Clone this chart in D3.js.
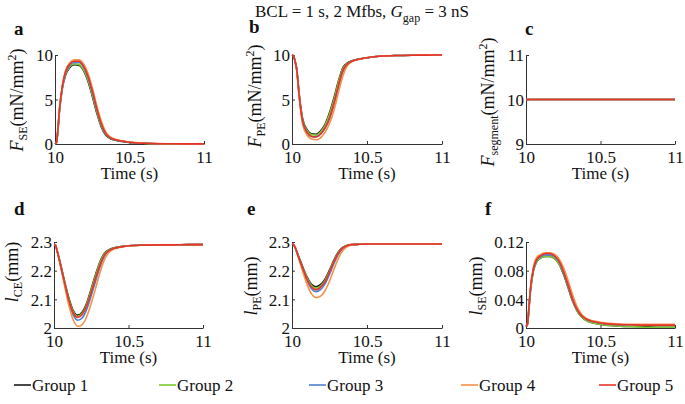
<!DOCTYPE html>
<html><head><meta charset="utf-8">
<script src="https://cdn.jsdelivr.net/npm/d3@7"></script>
<style>
body{margin:0;background:#fff;}
svg text, svg tspan{font-family:"Liberation Serif","Times New Roman","DejaVu Serif",serif !important;fill:#111;}
</style></head>
<body><svg id="c" width="685" height="404"></svg>
<script>
// ---------- data ----------
const groups = ["Group 1","Group 2","Group 3","Group 4","Group 5"];
const colors = ["#1a1a1a","#7cc832","#4f7fcf","#f4924a","#e8332b"];
const time = [10,10.01,10.02,10.03,10.05,10.07,10.1,10.13,10.16,10.19,10.22,10.25,10.28,10.31,10.34,10.37,10.4,10.45,10.5,10.6,10.7,10.8,10.9,11];
const xTicks = [10,10.5,11];

const fSE = [
 [0,0.15,1.6,3.7,6.3,7.7,8.6,8.9,8.85,8.3,7.1,5.4,3.5,1.95,1.0,0.62,0.44,0.29,0.17,0.07,0.03,0.01,0.01,0],
 [0,0.15,1.65,3.75,6.35,7.8,8.7,9.0,8.95,8.4,7.25,5.55,3.65,2.05,1.08,0.66,0.46,0.3,0.18,0.07,0.03,0.01,0.01,0],
 [0,0.18,1.75,3.85,6.45,7.95,8.85,9.15,9.15,8.7,7.55,5.85,3.9,2.2,1.18,0.71,0.49,0.32,0.2,0.08,0.03,0.02,0.01,0.01],
 [0,0.2,1.8,3.95,6.65,8.2,9.15,9.45,9.45,9.05,8.0,6.35,4.35,2.6,1.4,0.8,0.55,0.36,0.22,0.09,0.04,0.02,0.01,0.01],
 [0,0.2,1.8,3.9,6.6,8.1,9.0,9.3,9.3,8.8,7.7,6.0,4.0,2.3,1.2,0.72,0.5,0.33,0.2,0.08,0.03,0.02,0.01,0.01]
];
const fPE = [
 [10,9.9,9.35,8.6,5.3,2.9,1.6,1.15,1.1,1.45,2.2,3.5,5.2,7.1,8.6,9.1,9.35,9.56,9.7,9.88,9.95,9.98,9.99,10],
 [10,9.9,9.35,8.6,5.25,2.8,1.5,1.05,1.0,1.35,2.1,3.35,5.0,7.0,8.5,9.05,9.33,9.56,9.7,9.88,9.95,9.98,9.99,10],
 [10,9.9,9.3,8.5,5.1,2.6,1.3,0.85,0.82,1.1,1.75,2.85,4.45,6.45,8.15,8.95,9.3,9.55,9.7,9.88,9.95,9.98,9.99,10],
 [10,9.9,9.25,8.4,4.9,2.3,1.0,0.55,0.47,0.7,1.3,2.3,3.8,5.8,7.7,8.8,9.25,9.53,9.7,9.88,9.95,9.98,9.99,10],
 [10,9.9,9.3,8.5,5.1,2.6,1.3,0.85,0.78,1.1,1.8,2.9,4.6,6.6,8.3,9.0,9.3,9.55,9.7,9.88,9.95,9.98,9.99,10]
];
const segTime = [10,11];
const fSeg = [[10,10],[10,10],[10,10],[10,10],[10,10]];
const lCE = [
 [2.291,2.289,2.272,2.253,2.21,2.165,2.104,2.06,2.045,2.056,2.088,2.137,2.188,2.233,2.262,2.273,2.279,2.284,2.287,2.289,2.29,2.29,2.291,2.291],
 [2.291,2.289,2.271,2.252,2.208,2.163,2.1,2.056,2.041,2.052,2.084,2.133,2.184,2.23,2.26,2.272,2.278,2.284,2.287,2.289,2.29,2.29,2.291,2.291],
 [2.291,2.289,2.27,2.25,2.204,2.157,2.09,2.045,2.027,2.036,2.066,2.113,2.165,2.215,2.252,2.269,2.277,2.283,2.287,2.289,2.29,2.29,2.291,2.291],
 [2.291,2.289,2.269,2.248,2.2,2.15,2.078,2.027,2.006,2.012,2.04,2.086,2.14,2.195,2.24,2.264,2.275,2.282,2.286,2.289,2.29,2.29,2.291,2.291],
 [2.291,2.289,2.27,2.25,2.205,2.16,2.095,2.052,2.037,2.048,2.078,2.125,2.175,2.222,2.256,2.27,2.277,2.283,2.287,2.289,2.29,2.29,2.291,2.291]
];
const lPE = [
 [2.293,2.291,2.283,2.27,2.242,2.215,2.178,2.152,2.144,2.151,2.17,2.202,2.238,2.266,2.282,2.289,2.291,2.292,2.293,2.293,2.293,2.293,2.293,2.293],
 [2.293,2.291,2.283,2.269,2.24,2.213,2.175,2.148,2.139,2.146,2.166,2.198,2.235,2.264,2.281,2.288,2.291,2.292,2.293,2.293,2.293,2.293,2.293,2.293],
 [2.293,2.291,2.282,2.268,2.237,2.208,2.166,2.137,2.127,2.134,2.154,2.187,2.225,2.258,2.278,2.287,2.29,2.292,2.293,2.293,2.293,2.293,2.293,2.293],
 [2.293,2.291,2.281,2.266,2.233,2.2,2.153,2.119,2.106,2.111,2.13,2.163,2.205,2.244,2.271,2.284,2.289,2.292,2.293,2.293,2.293,2.293,2.293,2.293],
 [2.293,2.291,2.282,2.268,2.238,2.21,2.17,2.143,2.134,2.142,2.162,2.195,2.232,2.262,2.28,2.288,2.291,2.292,2.293,2.293,2.293,2.293,2.293,2.293]
];
const lSE = [
 [0.002,0.005,0.027,0.052,0.08,0.092,0.098,0.1,0.1,0.097,0.09,0.076,0.058,0.039,0.025,0.016,0.011,0.007,0.005,0.003,0.002,0.002,0.001,0.001],
 [0.002,0.005,0.027,0.052,0.08,0.092,0.098,0.1,0.1,0.097,0.09,0.077,0.059,0.04,0.025,0.016,0.011,0.007,0.005,0.003,0.002,0.001,0.001,0.001],
 [0.002,0.006,0.029,0.054,0.082,0.094,0.1,0.102,0.102,0.1,0.093,0.079,0.061,0.042,0.027,0.018,0.013,0.009,0.007,0.005,0.0045,0.004,0.004,0.004],
 [0.002,0.006,0.03,0.056,0.085,0.098,0.103,0.105,0.105,0.103,0.097,0.085,0.068,0.048,0.031,0.02,0.014,0.01,0.008,0.006,0.005,0.005,0.005,0.005],
 [0.002,0.006,0.03,0.055,0.083,0.095,0.101,0.104,0.104,0.101,0.094,0.08,0.062,0.042,0.027,0.018,0.013,0.009,0.007,0.005,0.0045,0.004,0.004,0.004]
];
const ticksF = [0,5,10], ticksSeg = [9,10,11];
const ticksL = [2,2.1,2.2,2.3], ticksLSE = [0,0.04,0.08,0.12];

// ---------- layout ----------
const FONT = "'Liberation Serif','Times New Roman','DejaVu Serif',serif";
const svg = d3.select("#c");
const panels = [
 {id:"a", x:55, y:55, w:149, h:89, t:time, data:fSE, dom:[0,10], ticks:ticksF, fmt:d3.format("d"),
  sym:"F", sub:"SE", unit:"(mN/mm", sup:"2", lx:23, ly:100, letX:14, letY:35},
 {id:"b", x:292, y:55, w:150, h:89, t:time, data:fPE, dom:[0,10], ticks:ticksF, fmt:d3.format("d"),
  sym:"F", sub:"PE", unit:"(mN/mm", sup:"2", lx:261, ly:96, letX:249, letY:33},
 {id:"c", x:526, y:55, w:149, h:89, t:segTime, data:fSeg, dom:[9,11], ticks:ticksSeg, fmt:d3.format("d"),
  sym:"F", sub:"segment", unit:"(mN/mm", sup:"2", lx:494, ly:102, letX:525, letY:35},
 {id:"d", x:54, y:242, w:149, h:86, t:time, data:lCE, dom:[2,2.3], ticks:ticksL, fmt:d=>String(+d.toFixed(1)),
  sym:"l", sub:"CE", unit:"(mm)", sup:null, lx:18, ly:272, letX:14, letY:215},
 {id:"e", x:292, y:242, w:150, h:86, t:time, data:lPE, dom:[2,2.3], ticks:ticksL, fmt:d=>String(+d.toFixed(1)),
  sym:"l", sub:"PE", unit:"(mm)", sup:null, lx:257, ly:286, letX:247, letY:215},
 {id:"f", x:526, y:242, w:149, h:86, t:time, data:lSE, dom:[0,0.12], ticks:ticksLSE, fmt:d=>d===0?"0":String(+d.toFixed(2)),
  sym:"l", sub:"SE", unit:"(mm)", sup:null, lx:482, ly:286, letX:485, letY:215}
];

panels.forEach(p=>{
  const g = svg.append("g").attr("transform",`translate(${p.x},${p.y})`);
  const x = d3.scaleLinear().domain([10,11]).range([0,p.w]);
  const y = d3.scaleLinear().domain(p.dom).range([p.h,0]);

  const xa = g.append("g").attr("transform",`translate(0,${p.h})`)
    .call(d3.axisBottom(x).tickValues(xTicks).tickFormat(d3.format("")).tickSize(-3).tickSizeOuter(0).tickPadding(8));
  const ya = g.append("g")
    .call(d3.axisLeft(y).tickValues(p.ticks).tickFormat(p.fmt).tickSize(-3).tickSizeOuter(0).tickPadding(4));
  [xa,ya].forEach(a=>{
    a.attr("font-family",FONT);
    a.selectAll("path,line").attr("stroke","#333").attr("stroke-width",1);
    a.selectAll("text").attr("font-size",17).style("font-family",FONT).attr("fill","#111");
  });
  xa.selectAll("text").attr("dy","0.66em");
  ya.selectAll("text").attr("dy","0.35em").attr("x",-2);

  const line = d3.line().x((d,i)=>x(p.t[i])).y(d=>y(d)).curve(d3.curveMonotoneX);
  p.data.forEach((s,i)=>{
    g.append("path").attr("d",line(s)).attr("fill","none")
      .attr("stroke",colors[i]).attr("stroke-width",1.6);
  });

  // x label
  g.append("text").attr("x",p.w/2).attr("y",p.h+35).attr("text-anchor","middle")
    .attr("font-size",17).style("font-family",FONT).text("Time (s)");

  // y label
  const yl = svg.append("text").attr("transform",`translate(${p.lx},${p.ly}) rotate(-90)`)
    .attr("text-anchor","middle").attr("font-size",18).style("font-family",FONT);
  yl.append("tspan").attr("font-style","italic").text(p.sym);
  yl.append("tspan").attr("font-size",12).attr("dy",4).text(p.sub);
  yl.append("tspan").attr("dy",-4).text(p.unit);
  if(p.sup){
    yl.append("tspan").attr("font-size",12).attr("dy",-7).text(p.sup);
    yl.append("tspan").attr("dy",7).text(")");
  }

  // panel letter
  svg.append("text").attr("x",p.letX).attr("y",p.letY).attr("font-size",19)
    .attr("font-weight","bold").style("font-family",FONT).text(p.id);
});

// title
const tt = svg.append("text").attr("x",255).attr("y",17).attr("font-size",17).style("font-family",FONT);
tt.append("tspan").text("BCL = 1 s, 2 Mfbs, ");
tt.append("tspan").attr("font-style","italic").text("G");
tt.append("tspan").attr("font-size",12).attr("dy",5).text("gap");
tt.append("tspan").attr("dy",-5).text(" = 3 nS");

// legend
const legX = [14,159,309,461,599];
const lg = svg.append("g");
groups.forEach((name,i)=>{
  lg.append("line").attr("x1",legX[i]).attr("x2",legX[i]+17).attr("y1",385).attr("y2",385)
    .attr("stroke",colors[i]).attr("stroke-width",1.6);
  lg.append("text").attr("x",legX[i]+18).attr("y",391).attr("font-size",17).style("font-family",FONT).text(name);
});
</script></body></html>
